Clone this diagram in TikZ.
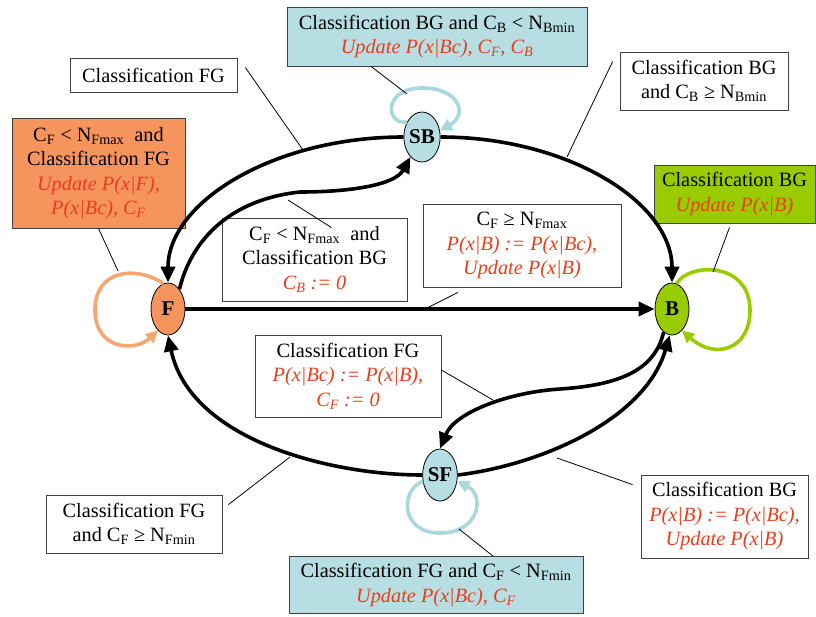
\documentclass[tikz,border=0pt]{standalone}
\usepackage{fontspec}
\setmainfont{Liberation Serif}
\usetikzlibrary{arrows.meta,shapes.geometric}
\definecolor{redtxt}{RGB}{232,62,28}
\definecolor{lblue}{RGB}{183,222,226}
\definecolor{lbloop}{RGB}{168,216,220}
\definecolor{orng}{RGB}{246,148,94}
\definecolor{orloop}{RGB}{247,166,110}
\definecolor{grn}{RGB}{153,204,0}
\newcommand{\sbs}[1]{\textsubscript{#1}}
\newcommand{\rd}[1]{{\color{redtxt}\itshape #1}}
\tikzset{
  box/.style={draw=black!75, line width=0.8pt, align=center, inner sep=0pt, fill=white,
    font=\fontsize{20.3}{24.5}\selectfont},
  state/.style={ellipse, draw=black, line width=0.8pt, minimum width=34pt, minimum height=52pt,
    inner sep=0pt, font=\fontsize{21}{24}\selectfont\bfseries},
  edge/.style={line width=3.6pt, -{Triangle[length=16pt,width=14pt]}},
  loopline/.style={line width=3.6pt, -{Triangle[length=12pt,width=12pt]}},
  callout/.style={line width=0.8pt}
}
\begin{document}
\begin{tikzpicture}[x=1pt,y=-1pt]
\useasboundingbox (0,0) rectangle (816,616);
\fill[white] (0,0) rectangle (816,616);

% boxes
\node[box, fill=lblue, minimum width=300pt, minimum height=59pt] (tb) at (437,36.5)
  {Classification BG and C\sbs{B} < N\sbs{Bmin}\\ \rd{Update P(x|Bc), C\sbs{F}, C\sbs{B}}};
\node[box, minimum width=167pt, minimum height=34pt] (fg) at (153.5,75) {Classification FG};
\node[box, fill=orng, minimum width=173pt, minimum height=110pt] (ob) at (98.5,173)
  {C\sbs{F} < N\sbs{Fmax}\ \ and\\Classification FG\\ \rd{Update P(x|F),}\\ \rd{P(x|Bc), C\sbs{F}}};
\node[box, minimum width=168pt, minimum height=58pt] (tr) at (704,81)
  {Classification BG\\and C\sbs{B} ≥ N\sbs{Bmin}};
\node[box, fill=grn, minimum width=161pt, minimum height=58pt] (gb) at (734.5,194)
  {Classification BG\\ \rd{Update P(x|B)}};
\node[box, minimum width=185pt, minimum height=83pt] (mb) at (314.5,259.5)
  {C\sbs{F} < N\sbs{Fmax}\ \ and\\Classification BG\\ \rd{C\sbs{B} := 0}};
\node[box, minimum width=198pt, minimum height=83pt] (mr) at (522,245.5)
  {C\sbs{F} ≥ N\sbs{Fmax}\\ \rd{P(x|B) := P(x|Bc),}\\ \rd{Update P(x|B)}};
\node[box, minimum width=186pt, minimum height=82pt] (lm) at (348,376)
  {Classification FG\\ \rd{P(x|Bc) := P(x|B),}\\ \rd{C\sbs{F} := 0}};
\node[box, minimum width=176pt, minimum height=58pt] (ll) at (134,524)
  {Classification FG\\and C\sbs{F} ≥ N\sbs{Fmin}};
\node[box, minimum width=167pt, minimum height=83pt] (lr) at (724.5,516.5)
  {Classification BG\\ \rd{P(x|B) := P(x|Bc),}\\ \rd{Update P(x|B)}};
\node[box, fill=lblue, minimum width=294pt, minimum height=57pt] (bb) at (436,585)
  {Classification FG and C\sbs{F} < N\sbs{Fmin}\\ \rd{Update P(x|Bc), C\sbs{F}}};

% states
\node[state, fill=orng] (F) at (168,309) {F};
\node[state, fill=grn] (B) at (672,309) {B};
\node[state, fill=lblue, minimum width=32pt, minimum height=50pt] (SB) at (422,137) {SB};
\node[state, fill=lblue] (SF) at (440,475) {SF};

% edges
\draw[edge] (F.east) -- (B.west);
\draw[edge] (SB.west) .. controls (274,137) and (168,202) .. (F.north);
\draw[edge] (SB.east) .. controls (567,137) and (672,202) .. (B.north);
\draw[edge] (F.60) .. controls (190,245) and (225,200) .. (300,192)
  .. controls (350,192) and (395,185) .. (SB.240);
\draw[edge] (B.250) .. controls (655,370) and (620,385) .. (560,389)
  .. controls (510,392) and (455,412) .. (SF.north);
\draw[edge] (SF.east) .. controls (540,465) and (645,420) .. (B.265);
\draw[edge] (SF.west) .. controls (330,475) and (190,440) .. (F.south);

% loops
\draw[loopline, draw=orloop] (F.100) .. controls (135,265) and (95,270) .. (95,310)
  .. controls (95,350) and (135,352) .. (F.245);
\draw[loopline, draw=grn] (B.80) .. controls (690,262) and (750,262) .. (750,310)
  .. controls (750,350) and (715,360) .. (B.295);
\draw[loopline, draw=lbloop] (SB.135) .. controls (385,125) and (383,88) .. (422,88)
  .. controls (460,88) and (468,115) .. (SB.20);
\draw[loopline, draw=lbloop] (SF.200) .. controls (400,490) and (400,533) .. (440,533)
  .. controls (480,533) and (485,495) .. (SF.340);

% callouts
\coordinate (k1) at (407,94);
\coordinate (k2) at (303,150);
\coordinate (k3) at (118,271);
\coordinate (k4) at (567,157);
\coordinate (k5) at (713,272);
\coordinate (k6) at (288,200);
\coordinate (k7) at (427,308);
\coordinate (k8) at (493,400);
\coordinate (k9) at (290,457);
\coordinate (k10) at (557,458);
\coordinate (k11) at (459,529);
\draw[callout] ([xshift=-66pt]tb.south) -- (k1);
\draw[callout] ([shift={(8pt,-10pt)}]fg.north east) -- (k2);
\draw[callout] (ob.south) -- (k3);
\draw[callout] ([shift={(-7pt,-10pt)}]tr.north west) -- (k4);
\draw[callout] ([shift={(-5pt,-4pt)}]gb.south) -- (k5);
\draw[callout] (k6) -- ([shift={(17pt,-10pt)}]mb.north);
\draw[callout] ([shift={(-64pt,-5pt)}]mr.south) -- (k7);
\draw[callout] ([yshift=6pt]lm.east) -- (k8);
\draw[callout] ([shift={(6pt,-10pt)}]ll.north east) -- (k9);
\draw[callout] ([shift={(-8pt,-10pt)}]lr.north west) -- (k10);
\draw[callout] ([xshift=57pt]bb.north) -- (k11);
\end{tikzpicture}
\end{document}
